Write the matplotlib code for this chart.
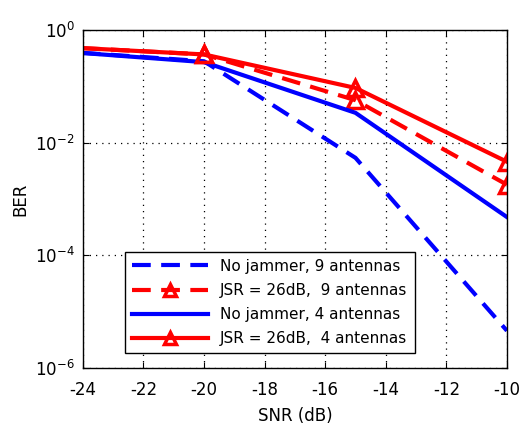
#!/usr/bin/env python3

import matplotlib
matplotlib.use("Agg")
import matplotlib.pyplot as plt
from matplotlib.ticker import FixedLocator, NullLocator

# SNR points of the simulation (dB)
snr = [-25, -20, -15, -10]

# BER results
ber_nojam_9 = [0.43, 0.28, 0.0054, 4.6e-6]
ber_jsr_9 = [0.51, 0.37, 0.057, 0.0018]
ber_nojam_4 = [0.43, 0.27, 0.034, 4.8e-4]
ber_jsr_4 = [0.51, 0.37, 0.094, 0.0046]

labels = ["No jammer, 9 antennas",
          "JSR = 26dB,  9 antennas",
          "No jammer, 4 antennas",
          "JSR = 26dB,  4 antennas"]

xticks = [-24, -22, -20, -18, -16, -14, -12, -10]
yticks = [1e-6, 1e-4, 1e-2, 1e0]

fig = plt.figure(figsize=(5.21, 4.30), dpi=100)
ax = fig.add_axes([0.159, 0.144, 0.814, 0.786])

lw = 3
ax.semilogy(snr, ber_nojam_9, color="blue", lw=lw, dashes=(4.5, 2.5), label=labels[0])
ax.semilogy(snr, ber_jsr_9, color="red", lw=lw, dashes=(4.5, 2.5), marker="^",
            markersize=11, mfc="none", mew=2.5, label=labels[1])
ax.semilogy(snr, ber_nojam_4, color="blue", lw=lw, label=labels[2])
ax.semilogy(snr, ber_jsr_4, color="red", lw=lw, marker="^",
            markersize=11, mfc="none", mew=2.5, label=labels[3])

ax.set_xlim(-24, -10)
ax.set_ylim(1e-6, 1)
ax.xaxis.set_major_locator(FixedLocator(xticks))
ax.yaxis.set_major_locator(FixedLocator(yticks))
ax.yaxis.set_minor_locator(NullLocator())
ax.set_xticklabels([str(t) for t in xticks])
ax.set_yticklabels([r"$10^{-6}$", r"$10^{-4}$", r"$10^{-2}$", r"$10^{0}$"])

ax.grid(True, which="major", color="black", linestyle=(0, (1, 4)), linewidth=0.9)
ax.tick_params(direction="in", top=True, right=True, labelsize=12, length=4)
ax.tick_params(axis="x", pad=9)
ax.tick_params(axis="y", pad=6)
for s in ax.spines.values():
    s.set_linewidth(1.0)

ax.set_xlabel("SNR (dB)", fontsize=12, labelpad=6)
ax.set_ylabel("BER", fontsize=12, labelpad=4)

leg = ax.legend(loc="lower left", bbox_to_anchor=(0.099, 0.044), borderaxespad=0,
                fontsize=11, handlelength=5.0, fancybox=False, framealpha=1,
                edgecolor="black", labelspacing=0.6, borderpad=0.45, markerscale=0.8)
leg.get_frame().set_linewidth(1.0)

fig.savefig("out.png", dpi=100)
